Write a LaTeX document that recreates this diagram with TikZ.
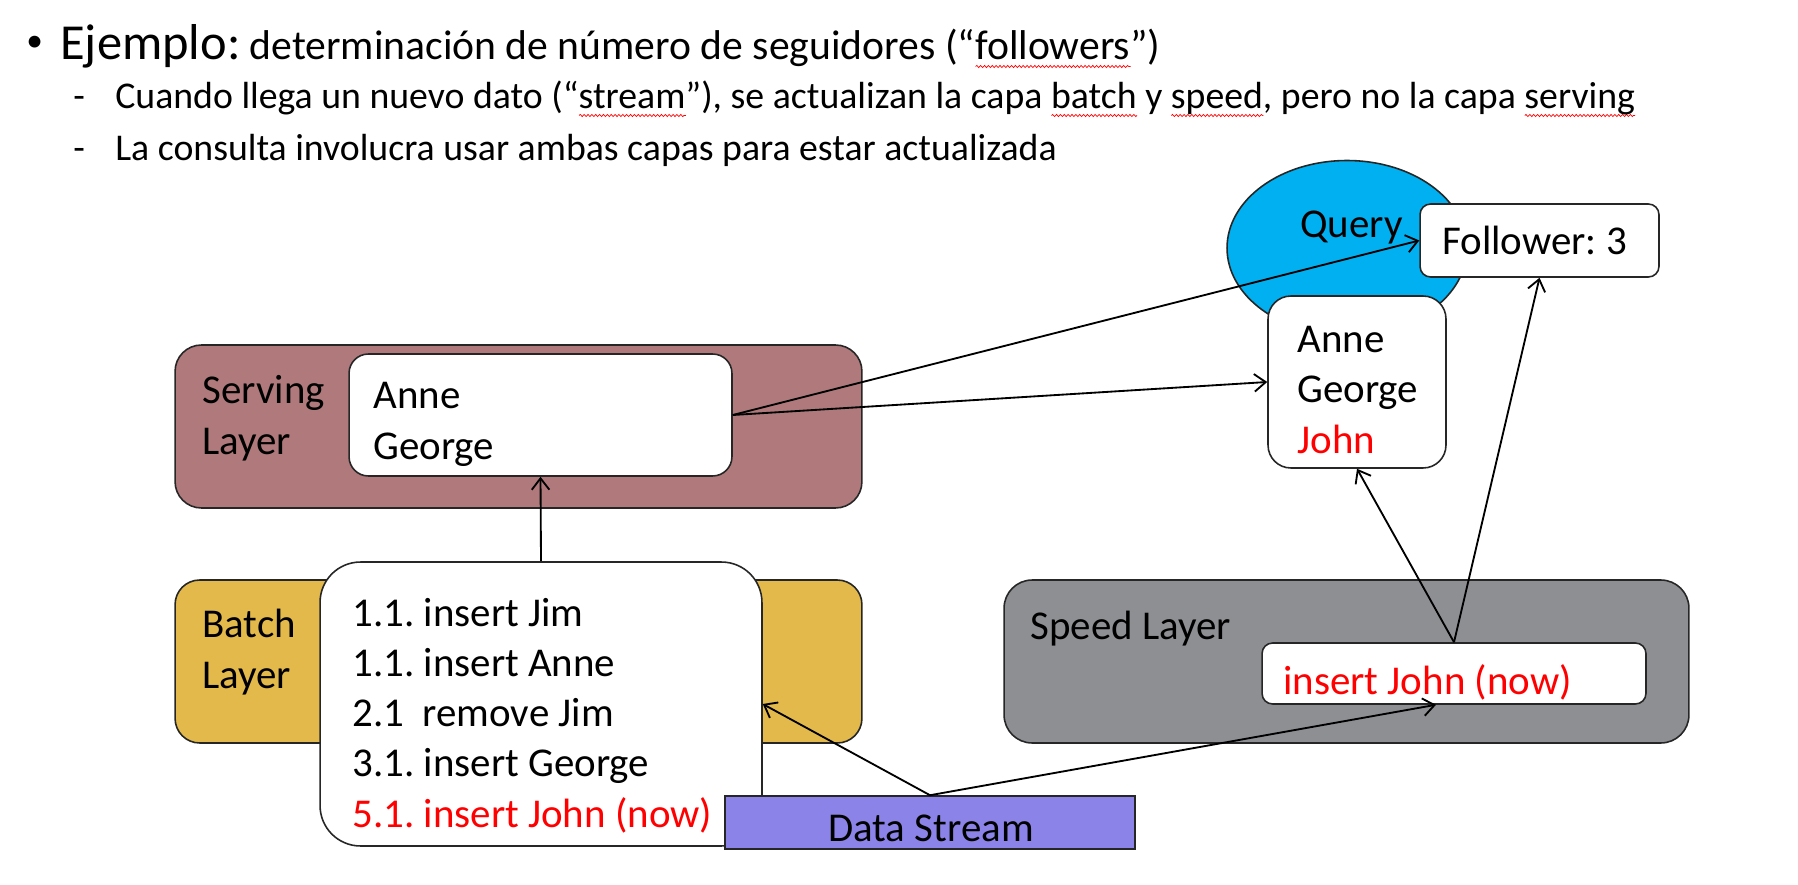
\documentclass[tikz,border=0pt]{standalone}
\usepackage{fontspec}
\setmainfont{Carlito}
\usetikzlibrary{arrows.meta,shapes.geometric,decorations.pathmorphing}

\definecolor{servingc}{RGB}{176,122,124}
\definecolor{batchc}{RGB}{227,185,75}
\definecolor{speedc}{RGB}{142,143,147}
\definecolor{queryc}{RGB}{0,176,240}
\definecolor{streamc}{RGB}{139,131,232}

% red wavy spell-check underline
\newsavebox\spellbox
\newcommand\spell[1]{\sbox\spellbox{#1}\rlap{\lower4.5pt\hbox{\tikz\draw[red, line width=0.4pt, decorate, decoration={snake, amplitude=0.6pt, segment length=2.2pt}] (0pt,0pt) -- (\wd\spellbox,0pt);}}\usebox\spellbox}
\frenchspacing

\begin{document}
\begin{tikzpicture}[x=0.02cm, y=-0.02cm,
    % Define styles for all boxes and texts
    layer/.style={rectangle, draw=black!85, line width=0.9pt, inner sep=0pt},
    inbox/.style={rectangle, draw=black!85, fill=white, line width=0.9pt, inner sep=0pt},
    lbl/.style={anchor=base west, inner sep=0pt, align=left, font=\fontsize{23.3}{28.6}\selectfont},
    link/.style={-{Straight Barb[length=6.5pt,width=10pt]}, line width=1.05pt}
  ]
  \path[use as bounding box, fill=white] (0,0) rectangle (1798,885);

  % Header text (multi-line nodes are placed by their last baseline)
  \node[lbl, font=\fontsize{19}{22}\selectfont] (bul) at (26,52) {•};
  \node[lbl] (title) at (60,60) {{\fontsize{28.7}{34}\selectfont Ejemplo:} {\fontsize{23.7}{28}\selectfont determinación de número de seguidores (“\spell{followers}”)}};
  \node[lbl, font=\fontsize{21.5}{26}\selectfont] (dashA) at (73,109) {-};
  \node[lbl, font=\fontsize{21.5}{26}\selectfont] (lineA) at (115,109) {Cuando llega un nuevo dato (“\spell{stream}”), se actualizan la capa \spell{batch} y \spell{speed}, pero no la capa \spell{serving}};
  \node[lbl, font=\fontsize{21.5}{26}\selectfont] (dashB) at (73,161) {-};
  \node[lbl, font=\fontsize{21.5}{26}\selectfont] (lineB) at (115,161) {La consulta involucra usar ambas capas para estar actualizada};

  % Serving layer
  \node[layer, fill=servingc, rounded corners=15pt, minimum width=13.74cm, minimum height=3.26cm] (servOut) at (518.5,426.5) {};
  \node[inbox, rounded corners=11pt, minimum width=7.66cm, minimum height=2.44cm] (servIn) at (540.5,415) {};
  \node[lbl] (servLbl) at (202,454) {Serving\\Layer};
  \node[lbl] (servTxt) at (373,459) {Anne\\George};

  % Batch layer
  \node[layer, fill=batchc, rounded corners=14pt, minimum width=13.74cm, minimum height=3.26cm] (batchOut) at (518.5,661.5) {};
  \node[lbl] (batchLbl) at (202,688) {Batch\\Layer};
  \node[inbox, rounded corners=23pt, minimum width=8.84cm, minimum height=5.68cm] (batchIn) at (541,704) {};
  \node[lbl] (batchTxt) at (352,827) {1.1. insert Jim\\1.1. insert Anne\\2.1\ \ remove Jim\\3.1. insert George\\\textcolor{red}{5.1. insert John (now)}};

  % Data stream
  \node[rectangle, draw=black!85, fill=streamc, line width=0.9pt, inner sep=0pt, minimum width=8.2cm, minimum height=1.06cm] (stream) at (930,822.5) {};
  \node[lbl, anchor=base] (streamTxt) at (931,841) {Data Stream};

  % Speed layer
  \node[layer, fill=speedc, rounded corners=16pt, minimum width=13.7cm, minimum height=3.26cm] (speedOut) at (1346.5,661.5) {};
  \node[lbl] (speedLbl) at (1030,639) {Speed Layer};
  \node[inbox, rounded corners=6pt, minimum width=7.68cm, minimum height=1.22cm] (speedIn) at (1454,673.5) {};
  \node[lbl, text=red] (speedTxt) at (1283,694) {insert John (now)};

  % Query
  \node[ellipse, draw=black!85, fill=queryc, line width=0.9pt, inner sep=0pt, minimum width=4.8cm, minimum height=3.5cm] (query) at (1347,248) {};
  \node[lbl] (queryTxt) at (1300,237) {Query};
  \node[inbox, rounded corners=6pt, minimum width=4.78cm, minimum height=1.46cm] (follow) at (1539.5,240.5) {};
  \node[lbl] (followTxt) at (1442,255) {Follower: 3};
  \node[inbox, rounded corners=13pt, minimum width=3.56cm, minimum height=3.44cm] (result) at (1357,382) {};
  \node[lbl] (resultTxt) at (1297,453) {Anne\\George\\\textcolor{red}{John}};

  % --- Draw the arrows ---
  \draw[link] (servIn.east) -- (follow.west);
  \draw[link] (servIn.east) -- (result.west);
  \draw[link] (batchIn.north) -- (servIn.south);
  \draw[link] (stream.north) -- (batchIn.east);
  \draw[link] (stream.north) -- ([xshift=-0.36cm]speedIn.south);
  \draw[link] (speedIn.north) -- (result.south);
  \draw[link] (speedIn.north) -- (follow.south);
\end{tikzpicture}
\end{document}
